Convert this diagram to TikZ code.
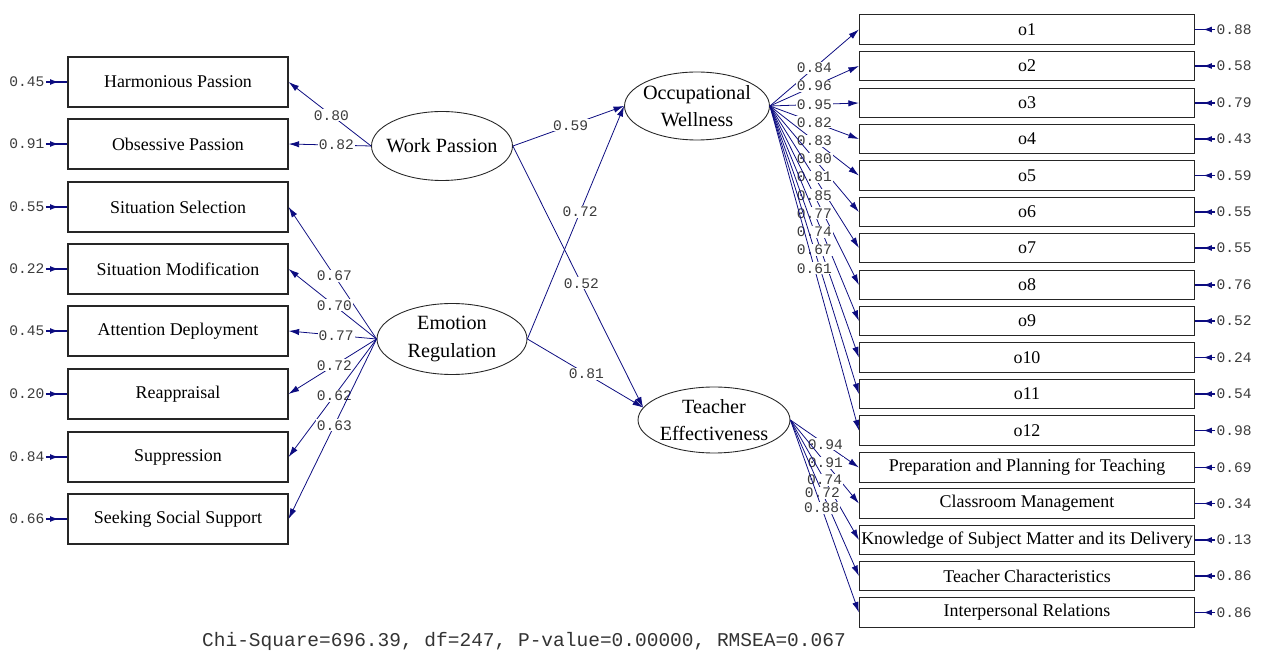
\documentclass[tikz,border=0pt]{standalone}
\usepackage{fontspec}
\setmainfont{Liberation Serif}
\newfontfamily\coefFont{Liberation Mono}
\usetikzlibrary{shapes.geometric,arrows.meta,decorations.markings}
\definecolor{pathNavy}{RGB}{12,12,128}
\definecolor{coefGray}{RGB}{60,60,60}

\tikzset{
	obsBox/.style={rectangle, draw=black!85, line width=0.7pt, fill=white, inner sep=0pt, font=\fontsize{10.2}{12}\selectfont},
	leftBox/.style={obsBox, minimum width=4.4cm, minimum height=1.0cm},
	rightBox/.style={obsBox, minimum width=6.7cm, minimum height=0.59cm},
	latentEll/.style={ellipse, draw=black!85, line width=0.5pt, fill=white, align=center, inner xsep=-0.15cm, inner ysep=0pt, font=\fontsize{11.5}{15.5}\selectfont},
	loading/.style={draw=pathNavy, line width=0.45pt, -{Latex[length=6pt,width=3.6pt]}},
	coef/.style={fill=white, inner sep=0.6pt, text=coefGray, font=\coefFont\fontsize{8.3}{9}\selectfont},
	errCoef/.style={inner sep=0.6pt, text=coefGray, font=\coefFont\fontsize{8.3}{9}\selectfont},
	errPath/.style={draw=pathNavy, line width=0.8pt, postaction={decorate}, decoration={markings, mark=at position 0.6 with {\arrow{Latex[length=5pt,width=3.4pt]}}}}
}

\begin{document}
\begin{tikzpicture}[x=0.02cm, y=-0.02cm]
	\useasboundingbox (0,0) rectangle (1262,651);

	% left indicators
	\node[leftBox](hpBox) at (178,82){Harmonious Passion};
	\node[leftBox](opBox) at (178,144){Obsessive Passion};
	\node[leftBox](ssBox) at (178,207){Situation Selection};
	\node[leftBox](smBox) at (178,269){Situation Modification};
	\node[leftBox](adBox) at (178,331){Attention Deployment};
	\node[leftBox](raBox) at (178,394){Reappraisal};
	\node[leftBox](suBox) at (178,457){Suppression};
	\node[leftBox](sssBox) at (178,519){Seeking Social Support};

	% latent variables
	\node[latentEll, minimum width=2.82cm, minimum height=1.38cm](wpEll) at (442,146){Work Passion};
	\node[latentEll, minimum width=3.0cm, minimum height=1.42cm](erEll) at (452,339){Emotion\\Regulation};
	\node[latentEll, minimum width=2.9cm, minimum height=1.36cm](owEll) at (697,106){Occupational\\Wellness};
	\node[latentEll, minimum width=3.04cm, minimum height=1.32cm](teEll) at (714,420){Teacher\\Effectiveness};

	% right indicators
	\node[rightBox](o1Box) at (1027,29.5){o1};
	\node[rightBox](o2Box) at (1027,66){o2};
	\node[rightBox](o3Box) at (1027,103){o3};
	\node[rightBox](o4Box) at (1027,139){o4};
	\node[rightBox](o5Box) at (1027,175.5){o5};
	\node[rightBox](o6Box) at (1027,212){o6};
	\node[rightBox](o7Box) at (1027,248){o7};
	\node[rightBox](o8Box) at (1027,285){o8};
	\node[rightBox](o9Box) at (1027,321){o9};
	\node[rightBox](o10Box) at (1027,357.5){o10};
	\node[rightBox](o11Box) at (1027,394){o11};
	\node[rightBox](o12Box) at (1027,430.5){o12};
	\node[rightBox](ppBox) at (1027,467.5){Preparation and Planning for Teaching};
	\node[rightBox](cmBox) at (1027,503.5){Classroom Management};
	\node[rightBox](ksBox) at (1027,540){Knowledge of Subject Matter and its Delivery};
	\node[rightBox](tcBox) at (1027,576){Teacher Characteristics};
	\node[rightBox](irBox) at (1027,612.5){Interpersonal Relations};

	% error variances
	\node[errCoef](hpErr) at (27,82){0.45};
	\node[errCoef](opErr) at (27,144){0.91};
	\node[errCoef](ssErr) at (27,207){0.55};
	\node[errCoef](smErr) at (27,269){0.22};
	\node[errCoef](adErr) at (27,331){0.45};
	\node[errCoef](raErr) at (27,394){0.20};
	\node[errCoef](suErr) at (27,457){0.84};
	\node[errCoef](sssErr) at (27,519){0.66};

	\node[errCoef](o1Err) at (1234,29.5){0.88};
	\node[errCoef](o2Err) at (1234,66){0.58};
	\node[errCoef](o3Err) at (1234,103){0.79};
	\node[errCoef](o4Err) at (1234,139){0.43};
	\node[errCoef](o5Err) at (1234,175.5){0.59};
	\node[errCoef](o6Err) at (1234,212){0.55};
	\node[errCoef](o7Err) at (1234,248){0.55};
	\node[errCoef](o8Err) at (1234,285){0.76};
	\node[errCoef](o9Err) at (1234,321){0.52};
	\node[errCoef](o10Err) at (1234,357.5){0.24};
	\node[errCoef](o11Err) at (1234,394){0.54};
	\node[errCoef](o12Err) at (1234,430.5){0.98};
	\node[errCoef](ppErr) at (1234,467.5){0.69};
	\node[errCoef](cmErr) at (1234,503.5){0.34};
	\node[errCoef](ksErr) at (1234,540){0.13};
	\node[errCoef](tcErr) at (1234,576){0.86};
	\node[errCoef](irErr) at (1234,612.5){0.86};

	% draw error edges
	\draw[errPath] (hpErr.east) -- (hpBox.west);
	\draw[errPath] (opErr.east) -- (opBox.west);
	\draw[errPath] (ssErr.east) -- (ssBox.west);
	\draw[errPath] (smErr.east) -- (smBox.west);
	\draw[errPath] (adErr.east) -- (adBox.west);
	\draw[errPath] (raErr.east) -- (raBox.west);
	\draw[errPath] (suErr.east) -- (suBox.west);
	\draw[errPath] (sssErr.east) -- (sssBox.west);

	\draw[errPath] (o1Err.west) -- (o1Box.east);
	\draw[errPath] (o2Err.west) -- (o2Box.east);
	\draw[errPath] (o3Err.west) -- (o3Box.east);
	\draw[errPath] (o4Err.west) -- (o4Box.east);
	\draw[errPath] (o5Err.west) -- (o5Box.east);
	\draw[errPath] (o6Err.west) -- (o6Box.east);
	\draw[errPath] (o7Err.west) -- (o7Box.east);
	\draw[errPath] (o8Err.west) -- (o8Box.east);
	\draw[errPath] (o9Err.west) -- (o9Box.east);
	\draw[errPath] (o10Err.west) -- (o10Box.east);
	\draw[errPath] (o11Err.west) -- (o11Box.east);
	\draw[errPath] (o12Err.west) -- (o12Box.east);
	\draw[errPath] (ppErr.west) -- (ppBox.east);
	\draw[errPath] (cmErr.west) -- (cmBox.east);
	\draw[errPath] (ksErr.west) -- (ksBox.east);
	\draw[errPath] (tcErr.west) -- (tcBox.east);
	\draw[errPath] (irErr.west) -- (irBox.east);

	% draw work passion loadings
	\draw[loading] (wpEll.west) -- node[coef, pos=0.48]{0.80} (hpBox.east);
	\draw[loading] (wpEll.west) -- node[coef, pos=0.42]{0.82} (opBox.east);

	% draw emotion regulation loadings
	\draw[loading] (erEll.west) -- node[coef, pos=0.48]{0.67} (ssBox.east);
	\draw[loading] (erEll.west) -- node[coef, pos=0.48]{0.70} (smBox.east);
	\draw[loading] (erEll.west) -- node[coef, pos=0.46]{0.77} (adBox.east);
	\draw[loading] (erEll.west) -- node[coef, pos=0.48]{0.72} (raBox.east);
	\draw[loading] (erEll.west) -- node[coef, pos=0.48]{0.62} (suBox.east);
	\draw[loading] (erEll.west) -- node[coef, pos=0.48]{0.63} (sssBox.east);

	% draw structural paths
	\draw[loading] (wpEll.east) -- node[coef, pos=0.52]{0.59} (owEll.west);
	\draw[loading] (erEll.east) -- node[coef, pos=0.545]{0.72} (owEll.west);
	\draw[loading] (wpEll.east) -- node[coef, pos=0.525]{0.52} (teEll.170);
	\draw[loading] (erEll.east) -- node[coef, pos=0.51]{0.81} (teEll.170);

	% draw occupational wellness loadings
	\draw[loading] (owEll.east) -- node[coef, pos=0.5]{0.84} (o1Box.west);
	\draw[loading] (owEll.east) -- node[coef, pos=0.5]{0.96} (o2Box.west);
	\draw[loading] (owEll.east) -- node[coef, pos=0.5]{0.95} (o3Box.west);
	\draw[loading] (owEll.east) -- node[coef, pos=0.5]{0.82} (o4Box.west);
	\draw[loading] (owEll.east) -- node[coef, pos=0.5]{0.83} (o5Box.west);
	\draw[loading] (owEll.east) -- node[coef, pos=0.5]{0.80} (o6Box.west);
	\draw[loading] (owEll.east) -- node[coef, pos=0.5]{0.81} (o7Box.west);
	\draw[loading] (owEll.east) -- node[coef, pos=0.5]{0.85} (o8Box.west);
	\draw[loading] (owEll.east) -- node[coef, pos=0.5]{0.77} (o9Box.west);
	\draw[loading] (owEll.east) -- node[coef, pos=0.5]{0.74} (o10Box.west);
	\draw[loading] (owEll.east) -- node[coef, pos=0.5]{0.67} (o11Box.west);
	\draw[loading] (owEll.east) -- node[coef, pos=0.5]{0.61} (o12Box.west);

	% draw teacher effectiveness loadings
	\draw[loading] (teEll.east) -- node[coef, pos=0.51]{0.94} (ppBox.west);
	\draw[loading] (teEll.east) -- node[coef, pos=0.51]{0.91} (cmBox.west);
	\draw[loading] (teEll.east) -- node[coef, pos=0.5]{0.74} (ksBox.west);
	\draw[loading] (teEll.east) -- node[coef, pos=0.465]{0.72} (tcBox.west);
	\draw[loading] (teEll.east) -- node[coef, pos=0.455]{0.88} (irBox.west);

	% fit statistics
	\node[text=black!80, font=\coefFont\fontsize{11.1}{13}\selectfont](fitText) at (524,641){Chi-Square=696.39, df=247, P-value=0.00000, RMSEA=0.067};
\end{tikzpicture}
\end{document}
